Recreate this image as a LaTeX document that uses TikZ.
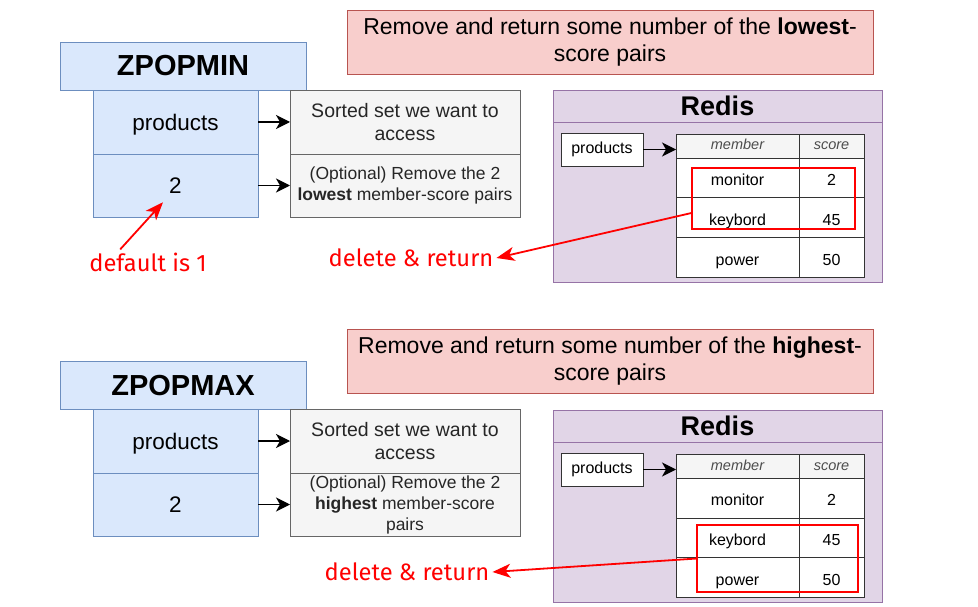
\documentclass[tikz,border=0pt]{standalone}
\usepackage{fontspec}
\setmainfont{Liberation Sans}
\newfontfamily\annofont{Fira Sans}
\usetikzlibrary{arrows.meta,calc,positioning}
\definecolor{cmdfill}{HTML}{DAE8FC}
\definecolor{cmdline}{HTML}{6C8EBF}
\definecolor{notefill}{HTML}{F5F5F5}
\definecolor{noteline}{HTML}{666666}
\definecolor{titlefill}{HTML}{F8CECC}
\definecolor{titleline}{HTML}{B85450}
\definecolor{redisfill}{HTML}{E1D5E7}
\definecolor{redisline}{HTML}{9673A6}
\definecolor{tabline}{HTML}{333333}
\tikzset{
    -{Stealth[length=14pt,width=14pt,inset=4pt]},auto,node distance =0pt and 0pt,line width=1.6pt,
    cmd/.style ={rectangle, draw=cmdline, fill=cmdfill, minimum width=246, minimum height=48, inner sep=0pt, outer sep=0pt, font=\fontsize{29}{34}\selectfont\bfseries},
    arg/.style ={rectangle, draw=cmdline, fill=cmdfill, minimum width=165, minimum height=63.5, inner sep=0pt, outer sep=0pt, text depth=0pt, font=\fontsize{22.5}{27}\selectfont},
    note/.style ={rectangle, draw=noteline, fill=notefill, text=black!85, minimum width=230, minimum height=63.5, inner sep=0pt, outer sep=0pt, align=center, font=\fontsize{19.5}{23}\selectfont},
    opt/.style ={note, font=\fontsize{17.5}{21}\selectfont},
    title/.style ={rectangle, draw=titleline, fill=titlefill, minimum width=526, minimum height=64, inner sep=0pt, outer sep=0pt, align=center, font=\fontsize{23}{27.5}\selectfont},
    redhead/.style ={rectangle, draw=redisline, fill=redisfill, minimum width=329, minimum height=32, inner sep=0pt, outer sep=0pt, font=\fontsize{27}{32}\selectfont\bfseries},
    redbody/.style ={rectangle, draw=redisline, fill=redisfill, minimum width=329, minimum height=160, inner sep=0pt, outer sep=0pt},
    key/.style ={rectangle, draw=tabline, fill=white, minimum width=82, minimum height=33, inner sep=0pt, outer sep=0pt, font=\fontsize{16}{19}\selectfont},
    head/.style ={rectangle, draw=tabline, fill=notefill, text=black!70, minimum width=123, minimum height=24, inner sep=0pt, outer sep=0pt, text height=11pt, text depth=3pt, font=\fontsize{14.5}{17}\selectfont\itshape},
    cell/.style ={rectangle, draw=tabline, fill=white, minimum width=123, minimum height=39.7, inner sep=0pt, outer sep=0pt, text height=16pt, text depth=0pt, font=\fontsize{16}{19}\selectfont},
    hilite/.style ={rectangle, draw=red, line width=2pt, inner sep=0pt, outer sep=0pt},
    anno/.style ={text=red, inner sep=3pt, font=\annofont\fontsize{23.7}{28}\selectfont},
    redarrow/.style ={-{Stealth[length=18pt,width=14pt,inset=5pt]}, draw=red, line width=1.8pt}
}
\begin{document}
\begin{tikzpicture}[x=1pt,y=-1pt]
	\useasboundingbox (0,0) rectangle (978,607);
	\fill[white,-] (0,0) rectangle (978,607);
	% ZPOPMIN
	\node[cmd] (zmin) at (183,66) {ZPOPMIN};
	\node[arg] (key1) at (175.5,122) {products};
	\node[arg, below=of key1] (cnt1) {2};
	\node[note] (acc1) at (405,122) {Sorted set we want to\\access};
	\node[opt, below=of acc1] (opt1) {(Optional) Remove the 2\\\textbf{lowest} member-score pairs};
	\node[title] (t1) at (610,42) {Remove and return some number of the \textbf{lowest}-\\score pairs};
	\path[line width=1.3pt] (key1) edge (acc1);
	\path[line width=1.3pt] (cnt1) edge (opt1);
	
	\node[redhead] (rh1) at (717.5,106) {Redis};
	\node[redbody, below=of rh1] (rb1) {};
	\node[key] (rk1) at (602,149.5) {products};
	\node[head] (mem1) at (737.5,146) {member};
	\node[head, minimum width=65, right=of mem1] (sc1) {score};
	\node[cell, below=of mem1] (m11) {monitor};
	\node[cell, minimum width=65, below=of sc1] (s11) {2};
	\node[cell, below=of m11] (m12) {keybord};
	\node[cell, minimum width=65, below=of s11] (s12) {45};
	\node[cell, below=of m12] (m13) {power};
	\node[cell, minimum width=65, below=of s12] (s13) {50};
	\draw[line width=1.3pt] (rk1.east) -- (rk1.east -| mem1.west);
	\node[hilite, minimum width=163, minimum height=61] (sel1) at (773.5,198.5) {};
	
	\node[anno] (del1) at (411,258) {delete \& return};
	\node[anno] (dflt) at (148,262) {default is 1};
	\draw[redarrow] (sel1.190) -- (del1.east);
	\draw[redarrow] ([xshift=34pt]dflt.north west) -- ([xshift=-12.5pt,yshift=15pt]cnt1.south);
	
	% ZPOPMAX
	\node[cmd] (zmax) at (183,385.5) {ZPOPMAX};
	\node[arg] (key2) at (175.5,441) {products};
	\node[arg, below=of key2] (cnt2) {2};
	\node[note] (acc2) at (405,441) {Sorted set we want to\\access};
	\node[opt, below=of acc2] (opt2) {(Optional) Remove the 2\\\textbf{highest} member-score\\pairs};
	\node[title] (t2) at (610,361) {Remove and return some number of the \textbf{highest}-\\score pairs};
	\path[line width=1.3pt] (key2) edge (acc2);
	\path[line width=1.3pt] (cnt2) edge (opt2);
	
	\node[redhead] (rh2) at (717.5,426) {Redis};
	\node[redbody, below=of rh2] (rb2) {};
	\node[key] (rk2) at (602,469.5) {products};
	\node[head] (mem2) at (737.5,466) {member};
	\node[head, minimum width=65, right=of mem2] (sc2) {score};
	\node[cell, below=of mem2] (m21) {monitor};
	\node[cell, minimum width=65, below=of sc2] (s21) {2};
	\node[cell, below=of m21] (m22) {keybord};
	\node[cell, minimum width=65, below=of s21] (s22) {45};
	\node[cell, below=of m22] (m23) {power};
	\node[cell, minimum width=65, below=of s22] (s23) {50};
	\draw[line width=1.3pt] (rk2.east) -- (rk2.east -| mem2.west);
	\node[hilite, minimum width=161, minimum height=67] (sel2) at (777.5,558.5) {};
	
	\node[anno] (del2) at (407,572) {delete \& return};
	\draw[redarrow] (sel2.west) -- (del2.east);
\end{tikzpicture}
\end{document}
